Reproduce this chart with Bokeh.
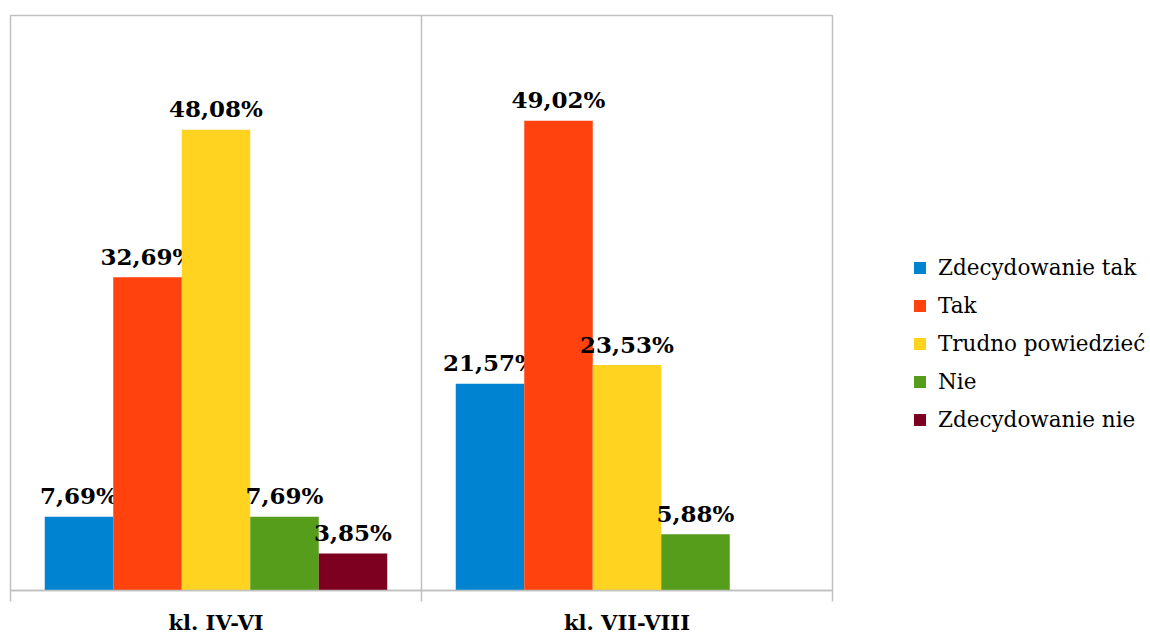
from bokeh.plotting import figure
from bokeh.models import FixedTicker, Legend, LegendItem, ColumnDataSource
from bokeh.core.properties import value
from bokeh.embed import file_html
from bokeh.resources import INLINE

categories = ["kl. IV-VI", "kl. VII-VIII"]
series = ["Zdecydowanie tak", "Tak", "Trudno powiedzieć", "Nie", "Zdecydowanie nie"]
zdecydowanie_tak = [7.69, 21.57]
tak = [32.69, 49.02]
trudno = [48.08, 23.53]
nie = [7.69, 5.88]
zdecydowanie_nie = [3.85, 0.0]
values = [zdecydowanie_tak, tak, trudno, nie, zdecydowanie_nie]
colors = ["#0084d1", "#ff420e", "#ffd320", "#579d1c", "#7e0021"]

FONT = "DejaVu Serif"
bar_w = 1 / 6

p = figure(frame_width=822, frame_height=575, x_range=(0, 2), y_range=(0, 60),
           output_backend="svg", toolbar_location=None, y_axis_location=None,
           min_border_left=10, min_border_top=15, min_border_right=318,
           min_border_bottom=44)
p.outline_line_color = "#c0c0c0"
p.outline_line_width = 1.5
p.ygrid.visible = False
p.xgrid.ticker = FixedTicker(ticks=[1])
p.xgrid.grid_line_color = "#c0c0c0"
p.xgrid.grid_line_width = 1.5

items = []
for j, (name, vals, col) in enumerate(zip(series, values, colors)):
    xs = [i + 0.5 + (j - 2) * bar_w for i in range(len(categories))]
    src = ColumnDataSource(dict(x=xs, top=vals,
                                lab=[("%.2f%%" % v).replace(".", ",") if v > 0 else "" for v in vals]))
    r = p.vbar(x="x", top="top", width=bar_w, source=src, fill_color=col, line_color=None)
    p.text(x="x", y="top", text="lab", source=src, text_align="center",
           text_baseline="alphabetic", y_offset=-21, text_font=value(FONT),
           text_font_style="bold", text_font_size="23px", text_color="#000000")
    items.append(LegendItem(label=name, renderers=[r]))

xa = p.xaxis[0]
xa.ticker = FixedTicker(ticks=[0.5, 1.5], minor_ticks=[0, 1, 2])
xa.major_label_overrides = {0.5: categories[0], 1.5: categories[1]}
xa.major_tick_out = 0
xa.major_tick_in = 0
xa.minor_tick_out = 11
xa.minor_tick_in = 0
xa.minor_tick_line_color = "#c0c0c0"
xa.minor_tick_line_width = 1.5
xa.axis_line_color = "#c0c0c0"
xa.axis_line_width = 1.5
xa.major_label_text_font = FONT
xa.major_label_text_font_style = "bold"
xa.major_label_text_font_size = "21px"
xa.major_label_text_color = "#000000"
xa.major_label_standoff = 8

legend = Legend(items=items, location=(80, 158), padding=0, margin=0,
                border_line_color=None, background_fill_alpha=0,
                glyph_width=15, glyph_height=15, label_standoff=11,
                label_height=20, spacing=13,
                label_text_font=FONT, label_text_font_size="21.5px",
                label_text_color="#000000")
p.add_layout(legend, "right")

open("out.html", "w").write(file_html(p, INLINE))
